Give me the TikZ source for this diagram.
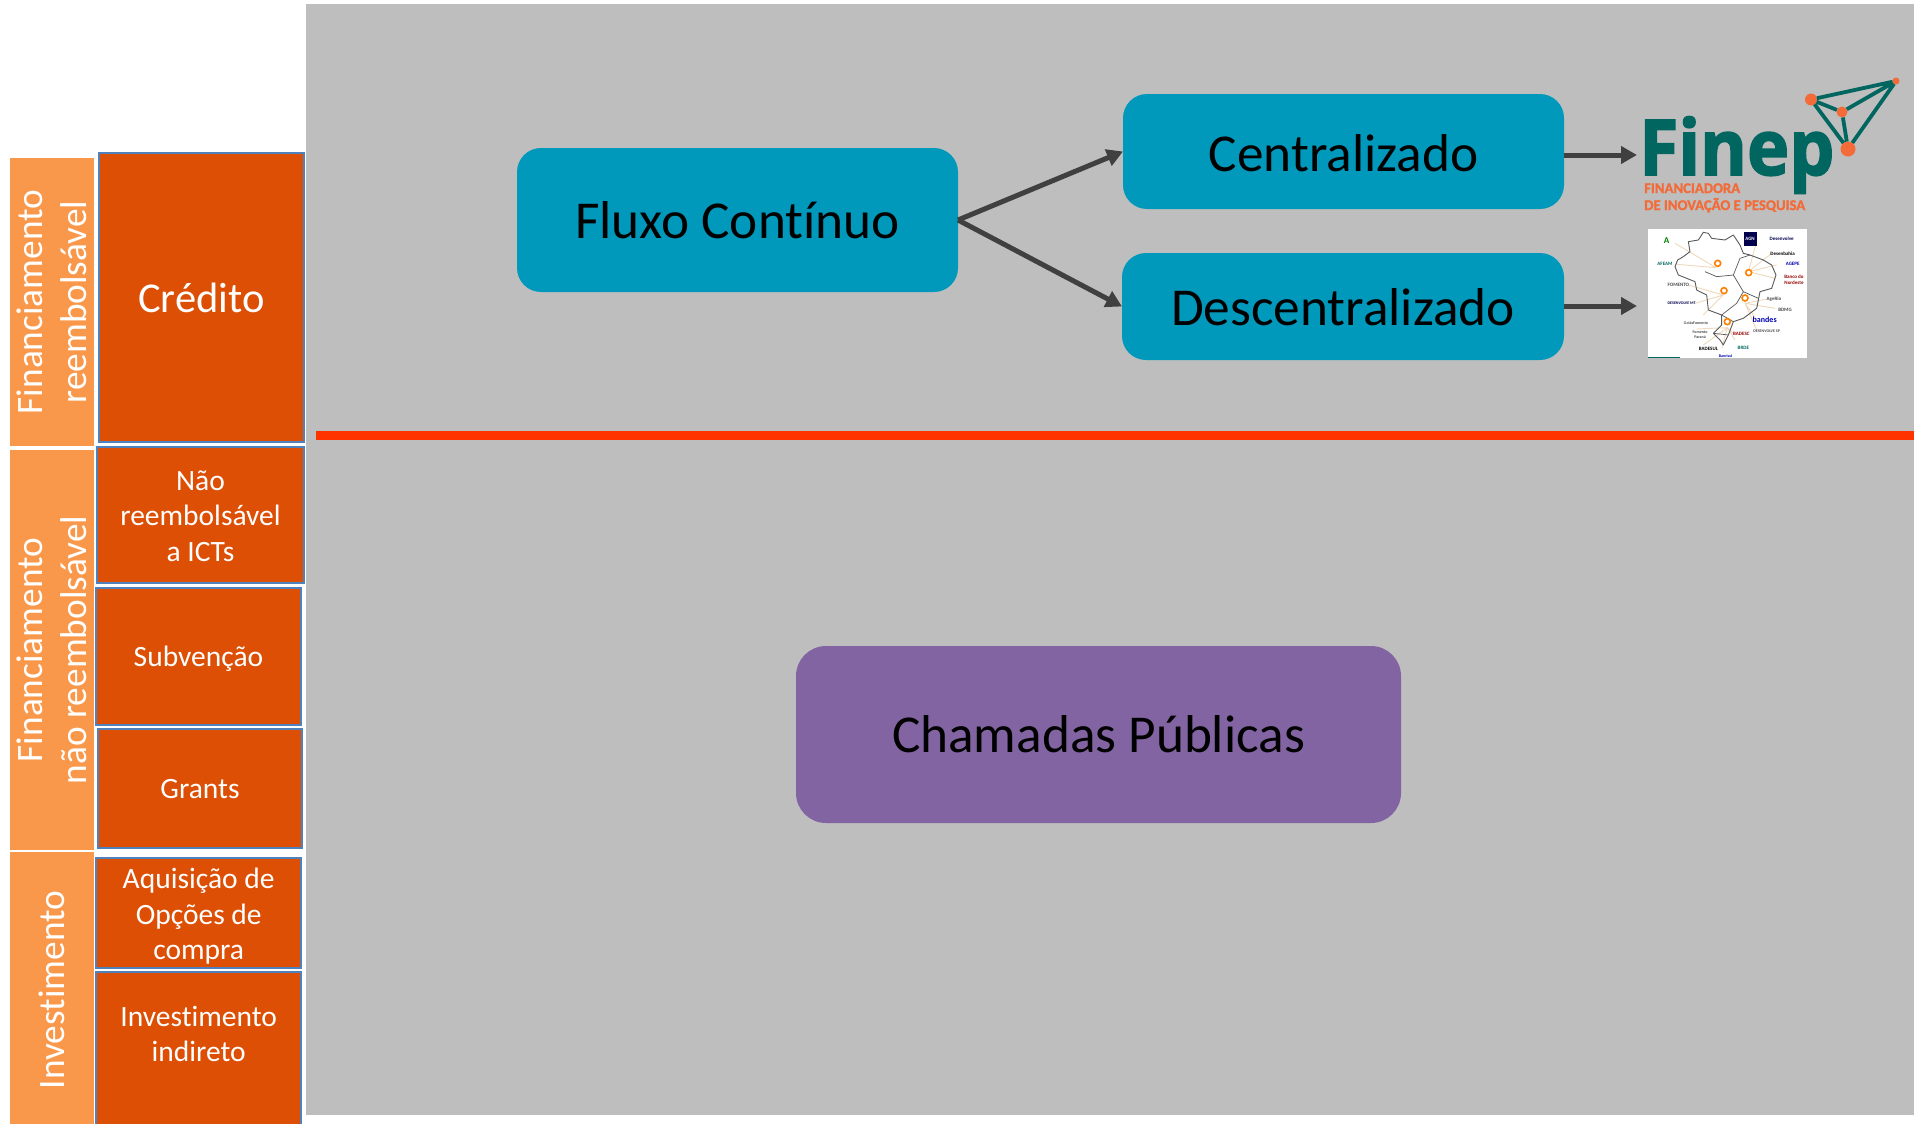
\documentclass[tikz,border=0pt]{standalone}
\usepackage{fontspec}
\setmainfont[Ligatures=NoCommon]{Carlito}
\newfontfamily\logofont[BoldFeatures={FakeBold=2.2}]{Open Sans}
\newfontfamily\subfont[BoldFeatures={FakeBold=1.5}]{Carlito}
\usetikzlibrary{arrows.meta}
\definecolor{panelgray}{HTML}{BFBEBE}
\definecolor{darkor}{HTML}{DC4F04}
\definecolor{lightor}{HTML}{F9984A}
\definecolor{edgeblue}{HTML}{4F81BD}
\definecolor{tealbox}{HTML}{0099BC}
\definecolor{purplebox}{HTML}{8264A2}
\definecolor{redline}{HTML}{FF3300}
\definecolor{arrowgray}{HTML}{404040}
\definecolor{finepteal}{HTML}{00665F}
\definecolor{finepor}{HTML}{F26B38}
\definecolor{tanline}{HTML}{EFD9BC}
\newcommand{\fs}[1]{\fontsize{#1}{\dimexpr#1pt*6/5\relax}\selectfont}
\newcommand{\down}[2]{\raisebox{-#1pt}[\height][\depth]{\parbox{200pt}{\centering #2}}}
\newcommand{\dnline}[2]{\raisebox{-#1pt}[\height][\depth]{#2}}
\tikzset{
  sidebox/.style={fill=lightor,draw=none,inner sep=0,outer sep=0},
  sidetext/.style={rotate=90,text=white,align=center,inner sep=0,font=\fontsize{37.3}{44}\selectfont},
  orbox/.style={fill=darkor,draw=edgeblue,line width=2,inner sep=0,outer sep=0,text=white,align=center,font=\fs{29.5}},
  mainbox/.style={fill=tealbox,draw=none,rounded corners=24,inner sep=0,outer sep=0,text=black,font=\fs{53.3}},
  flowline/.style={draw=arrowgray,line width=5,-{Triangle[length=16pt,width=17pt]}},
  netline/.style={draw=finepteal,line width=3.8},
  netdot/.style={circle,fill=finepor,draw=none,inner sep=0,outer sep=0},
  tieline/.style={draw=tanline,line width=0.9},
  mapline/.style={draw=gray!70!black,line width=0.9,line join=round},
  mappin/.style={circle,draw=orange,fill=white,line width=1.6,minimum size=6,inner sep=0},
  tinylabel/.style={inner sep=0,text=finepteal,font=\fs{5}\bfseries,align=center}
}
\begin{document}
\begin{tikzpicture}[x=1pt,y=-1pt]
\useasboundingbox (0,0) rectangle (1914,1124);
\clip (0,0) rectangle (1914,1124);
\fill[white] (0,0) rectangle (1914,1124);
\fill[panelgray] (306,4) rectangle (1914,1115);
\fill[redline] (316,430.5) rectangle (1914,439.5);

% side bands
\node[sidebox,minimum width=84,minimum height=288] (s1) at (52,302) {};
\node[sidebox,minimum width=84,minimum height=400] (s2) at (52,650) {};
\node[sidebox,minimum width=84,minimum height=280] (s3) at (52,992) {};
\node[sidetext] (s1t) at (52,302) {Financiamento\\reembolsável};
\node[sidetext] (s2t) at (52,650) {Financiamento\\não reembolsável};
\node[sidetext] (s3t) at (52,990) {Investimento};

% instrument boxes
\node[orbox,minimum width=205,minimum height=289,font=\fs{42.5}] (cred) at (201.5,297.5) {Crédito};
\node[orbox,minimum width=207,minimum height=136] (nao) at (200.5,515) {\down{1}{Não\\reembolsável\\a ICTs}};
\node[orbox,minimum width=205,minimum height=137] (sub) at (198.5,656.5) {\down{2.5}{Subvenção}};
\node[orbox,minimum width=204,minimum height=119] (gra) at (200,788.5) {\down{1}{Grants}};
\node[orbox,minimum width=204.5,minimum height=110] (aq) at (198.7,913) {\down{3.5}{Aquisição de\\Opções de\\compra}};
\node[orbox,minimum width=204.5,minimum height=170] (inv) at (198.7,1057) {};
\node[inner sep=0,text=white,align=center,font=\fs{29.5}] (invt) at (198.7,1034) {Investimento\\indireto};

% main boxes
\node[mainbox,minimum width=441,minimum height=144] (fluxo) at (737.5,220) {Fluxo Contínuo};
\node[mainbox,minimum width=441,minimum height=115] (cent) at (1343.5,151.5) {\dnline{1.5}{Centralizado}};
\node[mainbox,minimum width=442,minimum height=107] (desc) at (1343,306.5) {\dnline{1}{Descentralizado}};
\node[mainbox,fill=purplebox,rounded corners=30,minimum width=605,minimum height=177] (cham) at (1098.5,734.5) {Chamadas Públicas};

\coordinate (c1) at (1637,155);
\coordinate (c2) at (1637,306);
\draw[flowline] (fluxo.east) -- (cent.west);
\draw[flowline] (fluxo.east) -- (desc.west);
\draw[flowline] (cent.east |- c1) -- (c1);
\draw[flowline] (desc.east |- c2) -- (c2);

% Finep logo
\node[anchor=base west,inner sep=0,text=finepteal,xscale=0.927,font=\logofont\bfseries\fs{77}] (finep) at (1639,175) {Finep};
\node[anchor=base west,inner sep=0,text=finepor,font=\subfont\bfseries\fs{14.7}] (fin1) at (1644,193) {FINANCIADORA};
\node[anchor=base west,inner sep=0,text=finepor,font=\subfont\bfseries\fs{14.7}] (fin2) at (1644,210) {DE INOVAÇÃO E PESQUISA};
\node[netdot,minimum size=12] (n1) at (1811,99.5) {};
\node[netdot,minimum size=11] (n2) at (1842,112) {};
\node[netdot,minimum size=15] (n3) at (1848,149) {};
\node[netdot,minimum size=7] (n4) at (1896,81) {};
\draw[netline] (n1)--(n4) (n1)--(n2) (n1)--(n3) (n2)--(n4) (n2)--(n3) (n3)--(n4);

% map panel
\fill[white] (1648,229) rectangle (1807,358);
\begin{scope}[shift={(1640,225)},x=0.3333pt,y=-0.3333pt]
\draw[tieline] (105,55)--(228,128) (110,118)--(228,128) (145,180)--(250,210) (165,235)--(250,210)
  (190,270)--(250,210) (350,50)--(325,140) (395,85)--(325,140) (410,120)--(325,140) (405,160)--(325,140)
  (380,222)--(315,235) (405,250)--(315,235) (350,285)--(315,235) (350,315)--(315,235)
  (170,312)--(262,308) (190,360)--(262,308) (245,370)--(262,308) (285,345)--(262,308) (280,325)--(262,308);
\draw[mapline] (113,105)--(130,95)--(150,80)--(145,50)--(175,45)--(190,22)--(205,25)--(215,40)--(255,45)--(280,30)--(300,60)--(310,85)--(330,90)--(370,105)--(395,120)--(408,150)--(395,190)--(360,200)--(355,225)--(350,250)--(310,280)--(280,290)--(265,330)--(250,360)--(240,345)--(220,325)--(245,300)--(245,270)--(205,255)--(200,210)--(170,195)--(165,170)--(140,160)--(115,150)--(105,125)--cycle;
\draw[mapline,line width=0.7] (195,140)--(230,155)--(280,150)--(300,100)--(330,90) (280,150)--(310,200)--(290,235)--(245,270) (310,200)--(355,220) (245,270)--(280,290) (220,325)--(265,330);
\node[mappin] (p1) at (233,115) {};
\node[mappin] (p2) at (326,143) {};
\node[mappin] (p3) at (252,197) {};
\node[mappin] (p4) at (315,219) {};
\node[mappin] (p5) at (262,290) {};
\node[tinylabel,fill=black!70!blue,text=white,minimum width=13,minimum height=14] (l1) at (330,42) {AGN};
\node[tinylabel,text=black!70!blue] (l2) at (425,42) {Desenvolve};
\node[tinylabel,text=black] (l3) at (428,85) {Desenbahia};
\node[tinylabel,text=blue!70!black] (l4) at (458,117) {AGEPE};
\node[tinylabel,text=red!60!black] (l5) at (462,164) {Banco do\\Nordeste};
\node[tinylabel,text=black!70] (l6) at (402,222) {AgeRio};
\node[tinylabel,text=black!70] (l7) at (435,255) {BDMG};
\node[tinylabel,text=blue!70!black,font=\fs{8}\bfseries] (l8) at (374,283) {bandes};
\node[tinylabel,text=black!70,font=\fs{4}\bfseries] (l9) at (380,318) {DESENVOLVE SP};
\node[tinylabel,text=red!60!black] (l10) at (304,327) {BADESC};
\node[tinylabel,text=finepteal] (l11) at (310,370) {BRDE};
\node[tinylabel,text=blue!70!black,font=\fs{4}\bfseries] (l12) at (257,392) {Banrisul};
\node[tinylabel,text=black] (l13) at (205,373) {BADESUL};
\node[tinylabel,text=black!70,font=\fs{4}\bfseries] (l14) at (180,328) {Fomento\\Paraná};
\node[tinylabel,text=black!70,font=\fs{4}\bfseries] (l15) at (168,295) {GoiásFomento};
\node[tinylabel,text=black!70!blue,font=\fs{4}\bfseries] (l16) at (125,236) {DESENVOLVE MT};
\node[tinylabel,text=black!70] (l17) at (115,180) {FOMENTO};
\node[tinylabel,text=finepteal] (l18) at (75,117) {AFEAM};
\node[tinylabel,text=green!50!black,font=\fs{9}\bfseries] (l19) at (80,47) {A};
\end{scope}
\fill[finepteal] (1648,356.5) rectangle (1680,358);
\end{tikzpicture}
\end{document}
